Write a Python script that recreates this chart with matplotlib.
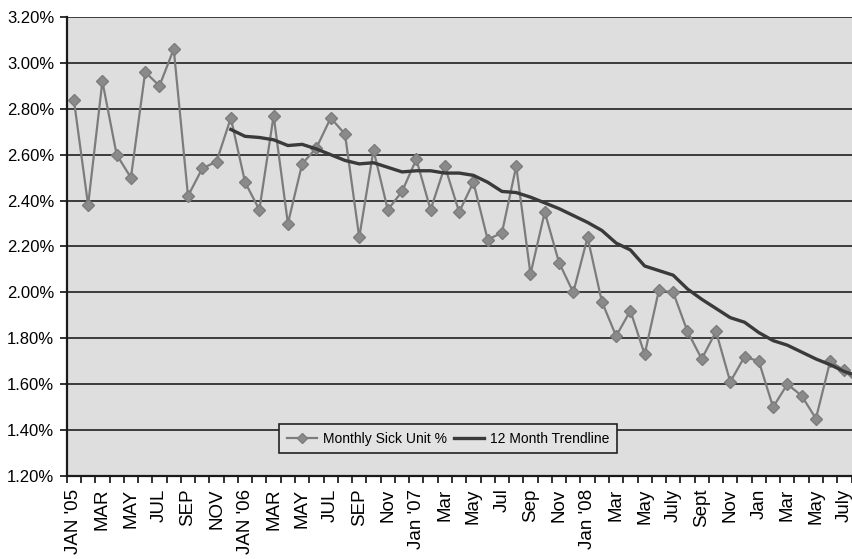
import matplotlib
matplotlib.use("Agg")
import matplotlib.pyplot as plt
from matplotlib.ticker import FixedLocator, FuncFormatter
import numpy as np

# Monthly categories Jan 2005 .. Aug 2009 (last one partly cut off at the right edge)
months = [f"{m} {y}" for y in range(2005, 2010)
          for m in ["Jan", "Feb", "Mar", "Apr", "May", "Jun", "Jul", "Aug", "Sep", "Oct", "Nov", "Dec"]][:56]

monthly_sick = [2.84, 2.38, 2.92, 2.60, 2.50, 2.96, 2.90, 3.06, 2.42, 2.54, 2.57, 2.76,
                2.48, 2.36, 2.77, 2.30, 2.56, 2.63, 2.76, 2.69, 2.24, 2.62, 2.36, 2.44,
                2.58, 2.36, 2.55, 2.35, 2.48, 2.23, 2.26, 2.55, 2.08, 2.35, 2.13, 2.00,
                2.24, 1.96, 1.81, 1.92, 1.73, 2.01, 2.00, 1.83, 1.71, 1.83, 1.61, 1.72,
                1.70, 1.50, 1.60, 1.55, 1.45, 1.70, 1.66, 1.60]

trend_start = 11  # Dec 2005
trendline = [2.71, 2.68, 2.675, 2.665, 2.64, 2.645, 2.625, 2.60, 2.575, 2.56, 2.565,
             2.545, 2.525, 2.53, 2.53, 2.52, 2.52, 2.51, 2.48, 2.44, 2.435, 2.415,
             2.39, 2.365, 2.335, 2.305, 2.27, 2.215, 2.185, 2.115, 2.095, 2.075,
             2.015, 1.97, 1.93, 1.89, 1.87, 1.825, 1.79, 1.77, 1.74, 1.71, 1.685,
             1.655, 1.635]

tick_labels = ["JAN '05", "MAR", "MAY", "JUL", "SEP", "NOV", "JAN '06", "MAR", "MAY",
               "JUL", "SEP", "Nov", "Jan '07", "Mar", "May", "Jul", "Sep", "Nov",
               "Jan '08", "Mar", "May", "July", "Sept", "Nov", "Jan", "Mar", "May", "July"]

y_ticks = [1.20, 1.40, 1.60, 1.80, 2.00, 2.20, 2.40, 2.60, 2.80, 3.00, 3.20]

plt.rcParams['font.family'] = ['Liberation Sans', 'DejaVu Sans']

fig = plt.figure(figsize=(8.53, 5.59), dpi=100)
ax = fig.add_axes([66.7 / 853, 1 - 476 / 559, 1 - 66.7 / 853, (476 - 17) / 559])
ax.set_facecolor('#dedede')

x = np.arange(len(monthly_sick))
xt = np.arange(trend_start, trend_start + len(trendline))

ax.plot(x, monthly_sick, color='#7c7c7c', lw=1.6, marker='D', markersize=6,
        markerfacecolor='#8a8a8a', markeredgecolor='#7c7c7c',
        label='Monthly Sick Unit %', zorder=3)
ax.plot(xt, trendline, color='#3a3a3a', lw=2.4, label='12 Month Trendline', zorder=4)

ax.set_ylim(1.20, 3.20)
ax.set_xlim(-0.5, 54.6)

ax.set_yticks(y_ticks)
ax.yaxis.set_major_formatter(FuncFormatter(lambda v, p: f"{v:.2f}%"))
ax.grid(axis='y', color='#2e2e2e', lw=1.3, zorder=1)
ax.set_axisbelow(True)

label_pos = np.arange(0, len(tick_labels) * 2, 2)
ax.set_xticks(label_pos)
ax.set_xticklabels(tick_labels, rotation=90, fontsize=13.5)
ax.xaxis.set_minor_locator(FixedLocator(np.arange(-0.5, len(monthly_sick), 1.0)))
ax.tick_params(axis='x', which='major', length=0, pad=9)
ax.tick_params(axis='x', which='minor', length=5, width=1.3, color='#222222', direction='out')
ax.tick_params(axis='y', length=5, width=1.3, color='#222222', labelsize=12, pad=4)

for s in ['top', 'right']:
    ax.spines[s].set_visible(False)
for s in ['left', 'bottom']:
    ax.spines[s].set_color('#1a1a1a')
    ax.spines[s].set_linewidth(1.6)

leg = ax.legend(loc='center', bbox_to_anchor=(0.485, 0.081), ncol=2, frameon=True,
                fancybox=False, edgecolor='#222222', facecolor='#e2e2e2', framealpha=1,
                prop={'size': 10}, handlelength=2.2, columnspacing=0.5,
                handletextpad=0.4, borderpad=0.55, borderaxespad=0)
leg.get_frame().set_linewidth(1.2)
for h in leg.legend_handles:
    h.set_markersize(5)

fig.savefig('out.png', dpi=100)
